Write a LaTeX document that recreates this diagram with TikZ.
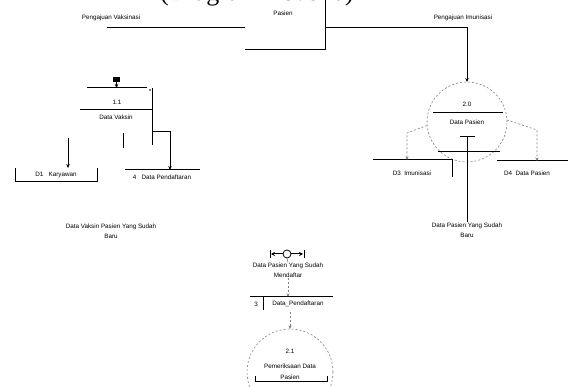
\documentclass[tikz,border=0pt]{standalone}
\usepackage{fontspec}
\setmainfont{Liberation Serif}
\newfontfamily\lblfont{Liberation Sans}
\usetikzlibrary{arrows.meta}
\begin{document}
\begin{tikzpicture}[x=1pt,y=-1pt,
  ln/.style={line width=1pt,black},
  arr/.style={ln,-{Stealth[length=4pt,width=3.5pt]}},
  dsh/.style={line width=0.6pt,gray,dash pattern=on 2pt off 2pt},
  darr/.style={dsh,-{Stealth[length=3.5pt,width=3pt]}},
  lbl/.style={font=\lblfont\fontsize{6.3}{7}\selectfont,inner sep=0pt,align=center},
  bx/.style={inner sep=0pt,outer sep=0pt}]
\useasboundingbox (0,0) rectangle (568,387);
\fill[white] (0,0) rectangle (568,387);
% title (cut off at top, as in the reference)
\node[font=\fontsize{26}{26}\selectfont,anchor=base west,inner sep=0pt] (title) at (160,1) {(Diagram Level 0)};
% central entity
\node[bx,minimum width=80pt,minimum height=54pt] (pasien) at (285,23) {};
\node[lbl] (pasientxt) at (283,13) {Pasien};
\draw[ln] (pasien.north east) -- (pasien.south east) -- (pasien.south west);
\coordinate (lstart) at (107,28);
\draw[ln] (lstart) -- (pasien.west |- lstart);
\node[lbl] (lflow) at (111,18) {Pengajuan Vaksinasi};
\node[lbl] (rflow) at (463,18) {Pengajuan Imunisasi};
% right process
\node[bx,circle,minimum size=80pt] (p2) at (467,122) {};
\draw[dsh] (p2) circle[radius=40pt];
\coordinate (rturn) at (467,28);
\draw[arr] (pasien.east |- rturn) -- (rturn) -- (p2.north);
\node[lbl] (p2num) at (467,104) {2.0};
\draw[ln] (433,113) -- (503,113);
\node[lbl] (p2txt) at (467,122) {Data Pasien};
\draw[ln] (460,137) -- (475,137);
\draw[ln] (438,152) -- (500,152);
% right stores
\node[bx,minimum width=79pt,minimum height=17pt] (s3) at (412.5,168.5) {};
\draw[ln] (s3.north west) -- (s3.north east) -- (s3.south east);
\node[lbl] (s3txt) at (412,173) {D3 \ Imunisasi};
\node[bx,minimum width=71pt,minimum height=17pt] (s4) at (532.5,169.5) {};
\draw[ln] (s4.north west) -- (s4.north east);
\node[lbl] (s4txt) at (527,173) {D4 \ Data Pasien};
\coordinate (dl) at (407,133);
\coordinate (dr) at (537,130);
\draw[darr] (p2.185) -- (dl) -- (dl |- s3.north);
\draw[darr] (p2.3) -- (dr) -- (dr |- s4.north);
% right bottom text
\node[lbl] (rbot) at (467,230) {Data Pasien Yang Sudah\\[3pt] Baru};
\draw[ln] (467,137) -- (rbot.north);
% left process
\node[bx,minimum width=72pt,minimum height=57pt] (p1) at (116,116.5) {};
\fill (113,77) rectangle (120,82);
\draw[arr] (116.5,82) -- (116.5,88);
\draw[ln] (87,88) -- (147,88);
\fill (150,90) circle[radius=0.8pt];
\node[lbl] (p1num) at (117,102) {1.1};
\draw[ln] (80,110) -- (152,110);
\node[lbl] (p1txt) at (116,117) {Data Vaksin};
\draw[ln] (152,88) -- (152,145);
\draw[ln] (123,133) -- (123,148);
% left stores
\node[bx,minimum width=82pt,minimum height=14pt] (s1) at (56,175) {};
\draw[ln] (s1.north west) -- (s1.south west) -- (s1.south east) -- (s1.north east);
\node[lbl] (s1txt) at (56,175) {D1 \ \ Karyawan};
\node[bx,minimum width=75pt,minimum height=12pt] (s2) at (162.5,176) {};
\draw[ln] (s2.north west) -- (s2.north east);
\node[lbl] (s2txt) at (162,177.5) {4 \ \ Data Pendaftaran};
\coordinate (lb) at (170,132);
\draw[arr] (152,132) -- (lb) -- (lb |- s2.north);
\coordinate (la) at (68,138);
\draw[arr] (la) -- (la |- s1.north);
\node[lbl] (lbot) at (111,231) {Data Vaksin Pasien Yang Sudah\\[3pt] Baru};
% bottom centre
\node[bx,circle,minimum size=8pt] (ctr) at (287,254) {};
\draw[line width=0.8pt] (ctr) circle[radius=4pt];
\coordinate (cl) at (271,254);
\coordinate (cr) at (303,254);
\draw[ln,-{Stealth[length=4pt,width=4pt]}] (ctr.west) -- (cl);
\draw[ln,-{Stealth[length=4pt,width=4pt]}] (ctr.east) -- (cr);
\draw[ln] (270,250) -- (270,258);
\draw[ln] (304,250) -- (304,258);
\node[lbl] (ctxt) at (288,270) {Data Pasien Yang Sudah\\[3pt] Mendaftar};
\draw[line width=0.6pt,gray] (ctr.south) -- (ctxt.north);
\node[bx,minimum width=83pt,minimum height=13pt] (s5) at (291.5,303.5) {};
\draw[ln] (s5.north west) -- (s5.north east);
\draw[ln] (263,297) -- (263,310);
\node[lbl] (s5num) at (256,304) {3};
\node[lbl] (s5txt) at (298,304) {Data\_Pendaftaran};
\draw[darr] (ctxt.south -| 288,0) -- (288,297);
% bottom process
\node[bx,circle,minimum size=86pt] (p3) at (290,372) {};
\draw[dsh] (p3) circle[radius=43pt];
\draw[darr] (290,312) -- (p3.north);
\node[lbl] (p3num) at (290,351) {2.1};
\node[lbl] (p3txt) at (290,366) {Pemeriksaan Data};
\node[lbl] (p3sub) at (290,377) {Pasien};
\draw[ln] (255,382) -- (327,382);
\draw[line width=0.6pt] (255,376) -- (255,382);
\draw[line width=0.6pt] (327,376) -- (327,382);
\end{tikzpicture}
\end{document}
